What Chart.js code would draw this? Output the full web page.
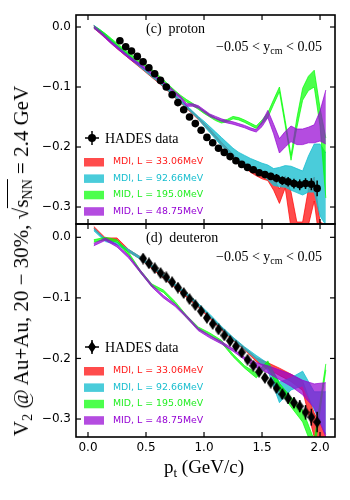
<!DOCTYPE html>
<html>
<head>
<meta charset="utf-8">
<script src="https://cdn.jsdelivr.net/npm/chart.js@4.4.1/dist/chart.umd.min.js"></script>
<style>
body { margin: 0; background: #fff; }
#wrap { position: relative; width: 350px; height: 500px; overflow: hidden; font-family: "Liberation Serif", "Times New Roman", serif; color: #000; }
#wrap canvas { position: absolute; left: 0; }
#topCanvas { top: 0; }
#botCanvas { top: 214px; }
.note { position: absolute; font-size: 14px; line-height: 14px; white-space: nowrap; z-index: 2; }
.note sub { font-size: 10px; vertical-align: -3px; line-height: 0; }
#yTitle { position: absolute; left: 21px; top: 261px; transform: translate(-50%, -50%) rotate(-90deg); font-size: 21px; line-height: 22px; white-space: nowrap; z-index: 2; }
#yTitle sub { font-size: 14px; vertical-align: -4px; line-height: 0; }
#yTitle .ov { border-top: 1px solid #000; padding-top: 1px; }
#xTitle { position: absolute; left: 204px; top: 467px; transform: translate(-50%, -50%); font-size: 19px; line-height: 20px; white-space: nowrap; z-index: 2; }
#xTitle sub { font-size: 13px; vertical-align: -4px; line-height: 0; }
</style>
</head>
<body>
<div id="wrap">
  <canvas id="topCanvas" width="350" height="230"></canvas>
  <canvas id="botCanvas" width="350" height="286"></canvas>
  <div class="note" style="left:146px; top:22px;">(c)&nbsp; proton</div>
  <div class="note" style="left:216px; top:40px;">−0.05 &lt; y<sub>cm</sub> &lt; 0.05</div>
  <div class="note" style="left:146px; top:231px;">(d)&nbsp; deuteron</div>
  <div class="note" style="left:216px; top:250px;">−0.05 &lt; y<sub>cm</sub> &lt; 0.05</div>
  <div id="yTitle">V<sub>2</sub> @ Au+Au, 20 − 30%, √<span class="ov">s<sub>NN</sub></span> = 2.4 GeV</div>
  <div id="xTitle">p<sub>t</sub> (GeV/c)</div>
</div>
<script>
document.addEventListener("DOMContentLoaded", function () {

/* ================= DATA ================= */
const xTicks = [0.0, 0.5, 1.0, 1.5, 2.0];
const yTicks = [-0.3, -0.2, -0.1, 0.0];

const modelLabels = ["MDI, L = 33.06MeV", "MDI, L = 92.66MeV", "MID, L = 195.0MeV", "MID, L = 48.75MeV"];

// proton, transport model bands (centre and half width)
const ptModelP = [0.05, 0.10, 0.15, 0.20, 0.25, 0.30, 0.35, 0.40, 0.45, 0.50,
                  0.55, 0.60, 0.65, 0.70, 0.75, 0.80, 0.85, 0.90, 0.95, 1.00,
                  1.05, 1.10, 1.15, 1.20, 1.25, 1.30, 1.35, 1.40, 1.45, 1.50,
                  1.55, 1.60, 1.65, 1.70, 1.75, 1.80, 1.85, 1.90, 1.95, 2.00, 2.05];

const pMdi33 = [0.000, -0.008, -0.016, -0.025, -0.034, -0.042, -0.050, -0.058, -0.066, -0.074,
                -0.082, -0.090, -0.098, -0.107, -0.116, -0.125, -0.134, -0.143, -0.152, -0.162,
                -0.172, -0.183, -0.194, -0.204, -0.214, -0.223, -0.232, -0.239, -0.244, -0.248,
                -0.250, -0.262, -0.282, -0.258, -0.305, -0.345, -0.345, -0.300, -0.270, -0.345, -0.350];
const pMdi33W = [0.002, 0.002, 0.002, 0.002, 0.002, 0.002, 0.002, 0.002, 0.002, 0.002,
                 0.002, 0.002, 0.002, 0.002, 0.002, 0.002, 0.002, 0.002, 0.002, 0.002,
                 0.002, 0.002, 0.002, 0.002, 0.002, 0.002, 0.002, 0.003, 0.004, 0.005,
                 0.006, 0.010, 0.012, 0.010, 0.030, 0.020, 0.020, 0.030, 0.020, 0.020, 0.020];

const pMdi92 = [0.001, -0.006, -0.014, -0.023, -0.032, -0.040, -0.048, -0.057, -0.065, -0.073,
                -0.081, -0.089, -0.097, -0.106, -0.115, -0.124, -0.133, -0.142, -0.151, -0.161,
                -0.171, -0.181, -0.191, -0.200, -0.209, -0.216, -0.222, -0.227, -0.232, -0.237,
                -0.242, -0.250, -0.250, -0.249, -0.252, -0.256, -0.260, -0.245, -0.235, -0.255, -0.270];
const pMdi92W = [0.002, 0.002, 0.002, 0.002, 0.002, 0.002, 0.002, 0.002, 0.002, 0.002,
                 0.002, 0.002, 0.002, 0.002, 0.002, 0.002, 0.002, 0.002, 0.002, 0.004,
                 0.005, 0.006, 0.007, 0.007, 0.007, 0.007, 0.008, 0.008, 0.009, 0.010,
                 0.012, 0.014, 0.016, 0.018, 0.020, 0.020, 0.020, 0.030, 0.040, 0.060, 0.060];

const pMid195 = [0.000, -0.006, -0.013, -0.021, -0.029, -0.037, -0.045, -0.052, -0.058, -0.065,
                 -0.073, -0.081, -0.090, -0.099, -0.108, -0.116, -0.123, -0.129, -0.135, -0.142,
                 -0.148, -0.154, -0.158, -0.156, -0.151, -0.153, -0.157, -0.162, -0.167, -0.158,
                 -0.147, -0.125, -0.104, -0.160, -0.218, -0.160, -0.112, -0.094, -0.086, -0.150, -0.235];
const pMid195W = [0.002, 0.002, 0.002, 0.002, 0.002, 0.002, 0.002, 0.002, 0.002, 0.002,
                  0.002, 0.002, 0.002, 0.002, 0.002, 0.002, 0.002, 0.002, 0.002, 0.002,
                  0.002, 0.002, 0.002, 0.002, 0.002, 0.002, 0.002, 0.002, 0.002, 0.003,
                  0.004, 0.004, 0.004, 0.004, 0.004, 0.008, 0.010, 0.012, 0.014, 0.015, 0.050];

const pMid48 = [0.000, -0.008, -0.017, -0.026, -0.034, -0.042, -0.050, -0.057, -0.063, -0.070,
                -0.077, -0.085, -0.093, -0.101, -0.110, -0.118, -0.130, -0.130, -0.133, -0.140,
                -0.147, -0.151, -0.155, -0.158, -0.160, -0.163, -0.166, -0.170, -0.173, -0.162,
                -0.145, -0.170, -0.198, -0.187, -0.178, -0.183, -0.183, -0.180, -0.178, -0.165, -0.150];
const pMid48W = [0.002, 0.002, 0.002, 0.002, 0.002, 0.002, 0.002, 0.002, 0.002, 0.002,
                 0.002, 0.002, 0.002, 0.002, 0.002, 0.002, 0.002, 0.002, 0.002, 0.002,
                 0.002, 0.002, 0.002, 0.002, 0.002, 0.002, 0.002, 0.002, 0.002, 0.004,
                 0.006, 0.008, 0.012, 0.013, 0.013, 0.013, 0.013, 0.013, 0.015, 0.025, 0.045];

// proton, HADES data
const ptDataP = [0.275, 0.325, 0.375, 0.425, 0.475, 0.525, 0.575, 0.625, 0.675, 0.725,
                 0.775, 0.825, 0.875, 0.925, 0.975, 1.025, 1.075, 1.125, 1.175, 1.225,
                 1.275, 1.325, 1.375, 1.425, 1.475, 1.525, 1.575, 1.625, 1.675, 1.725,
                 1.775, 1.825, 1.875, 1.925, 1.975];
const hadesP = [-0.023, -0.033, -0.040, -0.049, -0.058, -0.068, -0.078, -0.089, -0.100, -0.113,
                -0.126, -0.138, -0.150, -0.161, -0.172, -0.184, -0.193, -0.202, -0.209, -0.216,
                -0.223, -0.229, -0.234, -0.238, -0.243, -0.246, -0.249, -0.252, -0.256, -0.258,
                -0.261, -0.263, -0.261, -0.262, -0.269];
const hadesPErr = [0.002, 0.002, 0.002, 0.002, 0.002, 0.002, 0.002, 0.002, 0.002, 0.002,
                   0.002, 0.002, 0.002, 0.002, 0.002, 0.002, 0.002, 0.002, 0.002, 0.003,
                   0.003, 0.003, 0.003, 0.004, 0.004, 0.004, 0.006, 0.007, 0.007, 0.008,
                   0.008, 0.009, 0.009, 0.010, 0.013];

// deuteron, transport model bands
const ptModelD = [0.05, 0.15, 0.25, 0.35, 0.45, 0.55, 0.65, 0.75, 0.85, 0.95,
                  1.05, 1.15, 1.25, 1.35, 1.45, 1.55, 1.65, 1.75, 1.85, 1.95, 2.05];

const dMdi33 = [0.016, -0.003, -0.003, -0.022, -0.034, -0.050, -0.065, -0.081, -0.097, -0.113,
                -0.132, -0.151, -0.168, -0.184, -0.202, -0.212, -0.222, -0.232, -0.245, -0.310, -0.345];
const dMdi33W = [0.002, 0.002, 0.002, 0.002, 0.002, 0.002, 0.002, 0.002, 0.002, 0.002,
                 0.002, 0.002, 0.002, 0.002, 0.003, 0.005, 0.006, 0.006, 0.008, 0.020, 0.020];

const dMdi92 = [0.013, -0.005, -0.010, -0.022, -0.034, -0.048, -0.063, -0.079, -0.094, -0.111,
                -0.129, -0.149, -0.167, -0.183, -0.198, -0.214, -0.256, -0.242, -0.233, -0.270, -0.290];
const dMdi92W = [0.002, 0.002, 0.002, 0.002, 0.002, 0.002, 0.002, 0.002, 0.002, 0.002,
                 0.002, 0.002, 0.002, 0.002, 0.003, 0.006, 0.017, 0.010, 0.012, 0.015, 0.035];

const dMid195 = [-0.006, -0.002, -0.006, -0.027, -0.056, -0.079, -0.089, -0.108, -0.131, -0.150,
                 -0.160, -0.172, -0.195, -0.214, -0.228, -0.209, -0.247, -0.272, -0.295, -0.345, -0.214];
const dMid195W = [0.002, 0.002, 0.002, 0.002, 0.002, 0.002, 0.002, 0.002, 0.002, 0.002,
                  0.002, 0.002, 0.002, 0.002, 0.004, 0.005, 0.006, 0.008, 0.010, 0.010, 0.005];

const dMid48 = [-0.012, -0.003, -0.014, -0.032, -0.056, -0.080, -0.098, -0.112, -0.131, -0.152,
                -0.164, -0.174, -0.186, -0.200, -0.211, -0.218, -0.227, -0.236, -0.248, -0.262, -0.285];
const dMid48W = [0.002, 0.002, 0.002, 0.002, 0.002, 0.002, 0.002, 0.002, 0.002, 0.002,
                 0.002, 0.002, 0.002, 0.002, 0.004, 0.006, 0.008, 0.010, 0.012, 0.020, 0.045];

// deuteron, HADES data
const ptDataD = [0.475, 0.525, 0.575, 0.625, 0.675, 0.725, 0.775, 0.825, 0.875, 0.925,
                 0.975, 1.025, 1.075, 1.125, 1.175, 1.225, 1.275, 1.325, 1.375, 1.425,
                 1.475, 1.525, 1.575, 1.625, 1.675, 1.725, 1.775, 1.825, 1.875, 1.925, 1.975];
const hadesD = [-0.035, -0.043, -0.051, -0.059, -0.066, -0.074, -0.083, -0.092, -0.102, -0.112,
                -0.122, -0.133, -0.143, -0.152, -0.162, -0.171, -0.180, -0.190, -0.202, -0.212,
                -0.222, -0.232, -0.240, -0.249, -0.259, -0.266, -0.273, -0.279, -0.289, -0.297, -0.305];
const hadesDErr = [0.002, 0.002, 0.002, 0.002, 0.002, 0.002, 0.002, 0.002, 0.002, 0.002,
                   0.002, 0.003, 0.003, 0.003, 0.003, 0.003, 0.003, 0.003, 0.003, 0.005,
                   0.005, 0.005, 0.005, 0.007, 0.008, 0.009, 0.009, 0.010, 0.012, 0.014, 0.017];

/* ================= STYLE ================= */
const bandColors = ["rgba(255,0,0,0.7)", "rgba(23,190,207,0.78)", "rgba(0,255,0,0.7)", "rgba(148,0,211,0.7)"];
const textColors = ["#ff1a1a", "#17becf", "#22ee22", "#9400d3"];
const TICK_FONT = { family: "DejaVu Sans", size: 12 };

// thin diamond marker for deuterons
const diamond = document.createElement("canvas");
diamond.width = 8;
diamond.height = 12;
(function () {
    const c = diamond.getContext("2d");
    c.fillStyle = "#000";
    c.beginPath();
    c.moveTo(4, 0); c.lineTo(8, 6); c.lineTo(4, 12); c.lineTo(0, 6);
    c.closePath();
    c.fill();
})();

function bandSets(xs, mid, half, color, order) {
    const lo = xs.map((x, i) => ({ x: x, y: mid[i] - half[i] }));
    const hi = xs.map((x, i) => ({ x: x, y: mid[i] + half[i] }));
    return [
        { data: lo, borderColor: color, borderWidth: 1, pointRadius: 0, fill: false, order: order },
        { data: hi, borderColor: color, borderWidth: 1, pointRadius: 0, fill: "-1", backgroundColor: color, order: order }
    ];
}

/* ================= PLUGINS ================= */
const framePlugin = {
    id: "frame",
    afterDraw(chart) {
        const { ctx, chartArea: a, scales } = chart;
        const seg = (x1, y1, x2, y2) => { ctx.beginPath(); ctx.moveTo(x1, y1); ctx.lineTo(x2, y2); ctx.stroke(); };
        ctx.save();
        ctx.strokeStyle = "#000";
        ctx.lineWidth = 1.2;
        xTicks.forEach(v => {
            const px = scales.x.getPixelForValue(v);
            seg(px, a.top, px, a.top + 5);
            seg(px, a.bottom, px, a.bottom - 5);
        });
        yTicks.forEach(v => {
            const py = scales.y.getPixelForValue(v);
            seg(a.left, py, a.left + 5, py);
            seg(a.right, py, a.right - 5, py);
        });
        ctx.lineWidth = 1.6;
        ctx.strokeRect(a.left, a.top, a.right - a.left, a.bottom - a.top);
        ctx.restore();
    }
};

const errorBarPlugin = {
    id: "errorBars",
    afterDatasetsDraw(chart) {
        const { ctx, chartArea: a, scales } = chart;
        ctx.save();
        ctx.beginPath();
        ctx.rect(a.left, a.top, a.right - a.left, a.bottom - a.top);
        ctx.clip();
        ctx.strokeStyle = "#000";
        ctx.lineWidth = 1.5;
        chart.data.datasets.forEach(ds => {
            if (!ds.errors) return;
            ds.data.forEach((p, i) => {
                const px = scales.x.getPixelForValue(p.x);
                ctx.beginPath();
                ctx.moveTo(px, scales.y.getPixelForValue(p.y - ds.errors[i]));
                ctx.lineTo(px, scales.y.getPixelForValue(p.y + ds.errors[i]));
                ctx.stroke();
            });
        });
        ctx.restore();
    }
};

const legendPlugin = {
    id: "panelLegend",
    afterDraw(chart, args, opts) {
        const { ctx, chartArea: a } = chart;
        const mx = a.left + 16, my = a.top + 123;
        ctx.save();
        // HADES entry
        ctx.strokeStyle = "#000";
        ctx.lineWidth = 1.5;
        ctx.beginPath(); ctx.moveTo(mx, my - 7); ctx.lineTo(mx, my + 7); ctx.stroke();
        ctx.beginPath(); ctx.moveTo(mx - 7, my); ctx.lineTo(mx + 7, my); ctx.stroke();
        if (opts.marker === "diamond") {
            ctx.drawImage(diamond, mx - 4, my - 6);
        } else {
            ctx.fillStyle = "#000";
            ctx.beginPath(); ctx.arc(mx, my, 4, 0, Math.PI * 2); ctx.fill();
        }
        ctx.fillStyle = "#000";
        ctx.font = "14px 'Liberation Serif'";
        ctx.textBaseline = "middle";
        ctx.fillText("HADES data", a.left + 29, my + 1);
        // model entries
        ctx.font = "9.4px 'DejaVu Sans'";
        modelLabels.forEach((label, i) => {
            const y = a.top + 147 + i * 16.4;
            ctx.fillStyle = bandColors[i];
            ctx.fillRect(a.left + 8, y - 4, 20, 8.5);
            ctx.fillStyle = textColors[i];
            ctx.fillText(label, a.left + 37, y);
        });
        ctx.restore();
    }
};

/* ================= PANELS ================= */
function makePanel(canvasId, models, points, marker, showX) {
    const datasets = [points];
    models.forEach((m, i) => {
        bandSets(m.xs, m.mid, m.half, bandColors[i], 4 - i).forEach(d => datasets.push(d));
    });

    return new Chart(document.getElementById(canvasId), {
        type: "line",
        data: { datasets: datasets },
        options: {
            responsive: false,
            animation: false,
            layout: { padding: showX ? { top: 10, right: 15, bottom: 0, left: 0 }
                                     : { top: 15, right: 15, bottom: 6, left: 0 } },
            plugins: {
                legend: { display: false },
                tooltip: { enabled: false },
                panelLegend: { marker: marker }
            },
            scales: {
                x: {
                    type: "linear",
                    min: -0.1034,
                    max: 2.129,
                    afterBuildTicks: axis => { axis.ticks = xTicks.map(v => ({ value: v })); },
                    afterFit: scale => {
                        scale.height = showX ? 63 : 0;
                        scale.paddingLeft = 0;
                        scale.paddingRight = 0;
                    },
                    grid: { drawOnChartArea: false, drawTicks: false },
                    border: { display: false },
                    ticks: { display: showX, font: TICK_FONT, color: "#000", padding: 4, maxRotation: 0,
                             callback: v => v.toFixed(1) }
                },
                y: {
                    type: "linear",
                    min: showX ? -0.3297 : -0.3283,
                    max: showX ? 0.022 : 0.02,
                    afterBuildTicks: axis => { axis.ticks = yTicks.map(v => ({ value: v })); },
                    afterFit: scale => {
                        scale.width = 76;
                        scale.paddingTop = 0;
                        scale.paddingBottom = 0;
                    },
                    grid: { drawOnChartArea: false, drawTicks: false },
                    border: { display: false },
                    ticks: { font: TICK_FONT, color: "#000", padding: 5,
                             callback: v => (v < -1e-9 ? "\u2212" : "") + Math.abs(v).toFixed(1) }
                }
            }
        },
        plugins: [framePlugin, errorBarPlugin, legendPlugin]
    });
}

makePanel("topCanvas", [
    { xs: ptModelP, mid: pMdi33, half: pMdi33W },
    { xs: ptModelP, mid: pMdi92, half: pMdi92W },
    { xs: ptModelP, mid: pMid195, half: pMid195W },
    { xs: ptModelP, mid: pMid48, half: pMid48W }
], {
    data: ptDataP.map((x, i) => ({ x: x, y: hadesP[i] })),
    errors: hadesPErr,
    showLine: false,
    pointStyle: "circle",
    pointRadius: 3.8,
    pointBackgroundColor: "#000",
    pointBorderWidth: 0,
    order: 0
}, "circle", false);

makePanel("botCanvas", [
    { xs: ptModelD, mid: dMdi33, half: dMdi33W },
    { xs: ptModelD, mid: dMdi92, half: dMdi92W },
    { xs: ptModelD, mid: dMid195, half: dMid195W },
    { xs: ptModelD, mid: dMid48, half: dMid48W }
], {
    data: ptDataD.map((x, i) => ({ x: x, y: hadesD[i] })),
    errors: hadesDErr,
    showLine: false,
    pointStyle: diamond,
    pointRadius: 5,
    order: 0
}, "diamond", true);

});
</script>
</body>
</html>
